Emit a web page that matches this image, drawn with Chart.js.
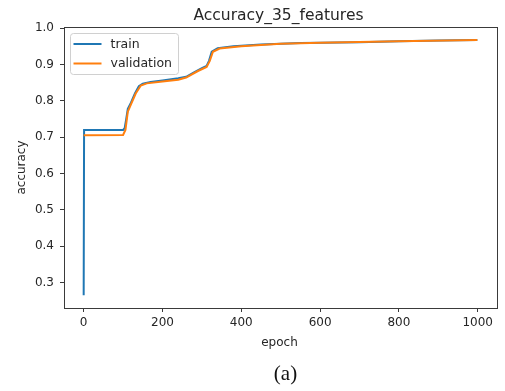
<!DOCTYPE html>
<html>
<head>
<meta charset="utf-8">
<script src="https://cdn.jsdelivr.net/npm/chart.js@4/dist/chart.umd.min.js"></script>
<style>
  html, body { margin: 0; padding: 0; background: #ffffff; }
  #wrap { width: 505px; height: 391px; position: relative; }
  canvas { display: block; }
</style>
</head>
<body>
<div id="wrap"><canvas id="c" width="505" height="391"></canvas></div>
<script>
// ---- data ----
const chartTitle = "Accuracy_35_features";
const xTitle = "epoch";
const yTitle = "accuracy";
const caption = "(a)";
const seriesNames = ["train", "validation"];

const trainEpochs = [0, 1, 100, 104, 108, 112, 120, 130, 140, 150, 170, 200, 240, 260, 280, 300, 312, 318, 325, 340, 380, 450, 550, 700, 800, 900, 999];
const trainAcc    = [0.265, 0.72, 0.72, 0.725, 0.75, 0.778, 0.795, 0.82, 0.84, 0.847, 0.852, 0.856, 0.862, 0.866, 0.878, 0.89, 0.896, 0.91, 0.935, 0.945, 0.95, 0.955, 0.959, 0.961, 0.964, 0.966, 0.967];

const valEpochs = [0, 100, 106, 112, 120, 132, 145, 160, 200, 240, 260, 290, 312, 320, 328, 345, 400, 500, 600, 800, 999];
const valAcc    = [0.705, 0.706, 0.72, 0.77, 0.79, 0.82, 0.842, 0.848, 0.853, 0.858, 0.864, 0.882, 0.893, 0.91, 0.935, 0.944, 0.95, 0.957, 0.96, 0.964, 0.967];

const xTicks = [0, 200, 400, 600, 800, 1000];
const yTicks = [0.3, 0.4, 0.5, 0.6, 0.7, 0.8, 0.9, 1.0];

const toPoints = (xs, ys) => xs.map((x, i) => ({ x: x, y: ys[i] }));

const FONT = "'DejaVu Sans', sans-serif";
const TXT = "#262626";

const decorPlugin = {
  id: "decor",
  afterDraw(chart) {
    const ctx = chart.ctx;
    const a = chart.chartArea;
    ctx.save();
    // spines
    ctx.strokeStyle = "#3a3a3a";
    ctx.lineWidth = 1;
    ctx.strokeRect(Math.round(a.left) + 0.5, Math.round(a.top) + 0.5, Math.round(a.right - a.left), Math.round(a.bottom - a.top));
    // title
    ctx.fillStyle = TXT;
    ctx.font = "15.5px " + FONT;
    ctx.textAlign = "center";
    ctx.textBaseline = "alphabetic";
    ctx.fillText(chartTitle, 278.5, 20);
    // x title
    ctx.font = "12px " + FONT;
    ctx.fillText(xTitle, 279.5, 346);
    // y title
    ctx.save();
    ctx.translate(25, (a.top + a.bottom) / 2);
    ctx.rotate(-Math.PI / 2);
    ctx.fillText(yTitle, 0, 0);
    ctx.restore();
    // caption
    ctx.font = "21px 'Liberation Serif', serif";
    ctx.fillStyle = "#111";
    ctx.fillText(caption, 285.5, 380);
    // legend
    const lx = 70.5, ly = 33.5, lw = 108, lh = 41;
    ctx.beginPath();
    if (ctx.roundRect) ctx.roundRect(lx, ly, lw, lh, 3); else ctx.rect(lx, ly, lw, lh);
    ctx.fillStyle = "rgba(255,255,255,0.85)";
    ctx.fill();
    ctx.strokeStyle = "#d0d0d0";
    ctx.stroke();
    const rows = [44, 63.5];
    chart.data.datasets.forEach((ds, i) => {
      ctx.strokeStyle = ds.borderColor;
      ctx.lineWidth = 2;
      ctx.beginPath();
      ctx.moveTo(73.5, rows[i]);
      ctx.lineTo(101.5, rows[i]);
      ctx.stroke();
      ctx.fillStyle = TXT;
      ctx.font = "12.5px " + FONT;
      ctx.textAlign = "left";
      ctx.textBaseline = "middle";
      ctx.fillText(ds.label, 110.5, rows[i] + 0.5);
    });
    ctx.restore();
  }
};

new Chart(document.getElementById("c"), {
  type: "line",
  data: {
    datasets: [
      { label: seriesNames[0], data: toPoints(trainEpochs, trainAcc), borderColor: "#1f77b4", borderWidth: 2, pointRadius: 0, fill: false, tension: 0, order: 1 },
      { label: seriesNames[1], data: toPoints(valEpochs, valAcc), borderColor: "#ff7f0e", borderWidth: 2, pointRadius: 0, fill: false, tension: 0, order: 0 }
    ]
  },
  options: {
    responsive: false,
    animation: false,
    devicePixelRatio: 1,
    layout: { padding: { top: 27, right: 8, bottom: 0, left: 0 } },
    plugins: {
      legend: { display: false },
      title: { display: false },
      tooltip: { enabled: false }
    },
    scales: {
      x: {
        type: "linear",
        min: -49.95,
        max: 1048.95,
        afterBuildTicks: (s) => { s.ticks = xTicks.map(v => ({ value: v })); },
        afterFit: (s) => { s.height = 83; },
        grid: { display: true, drawOnChartArea: false, drawTicks: true, tickLength: 4, color: "#3a3a3a" },
        border: { display: true, color: "#3a3a3a", width: 1 },
        ticks: { color: TXT, font: { family: FONT, size: 12 }, padding: 4, maxRotation: 0, autoSkip: false, callback: (v) => String(v) }
      },
      y: {
        type: "linear",
        min: 0.2299,
        max: 1.0031,
        afterBuildTicks: (s) => { s.ticks = yTicks.map(v => ({ value: v })); },
        afterFit: (s) => { s.width = 64; },
        grid: { display: true, drawOnChartArea: false, drawTicks: true, tickLength: 4, color: "#3a3a3a" },
        border: { display: true, color: "#3a3a3a", width: 1 },
        ticks: { color: TXT, font: { family: FONT, size: 12 }, padding: 6, autoSkip: false, callback: (v) => Number(v).toFixed(1) }
      }
    }
  },
  plugins: [decorPlugin]
});
</script>
</body>
</html>
